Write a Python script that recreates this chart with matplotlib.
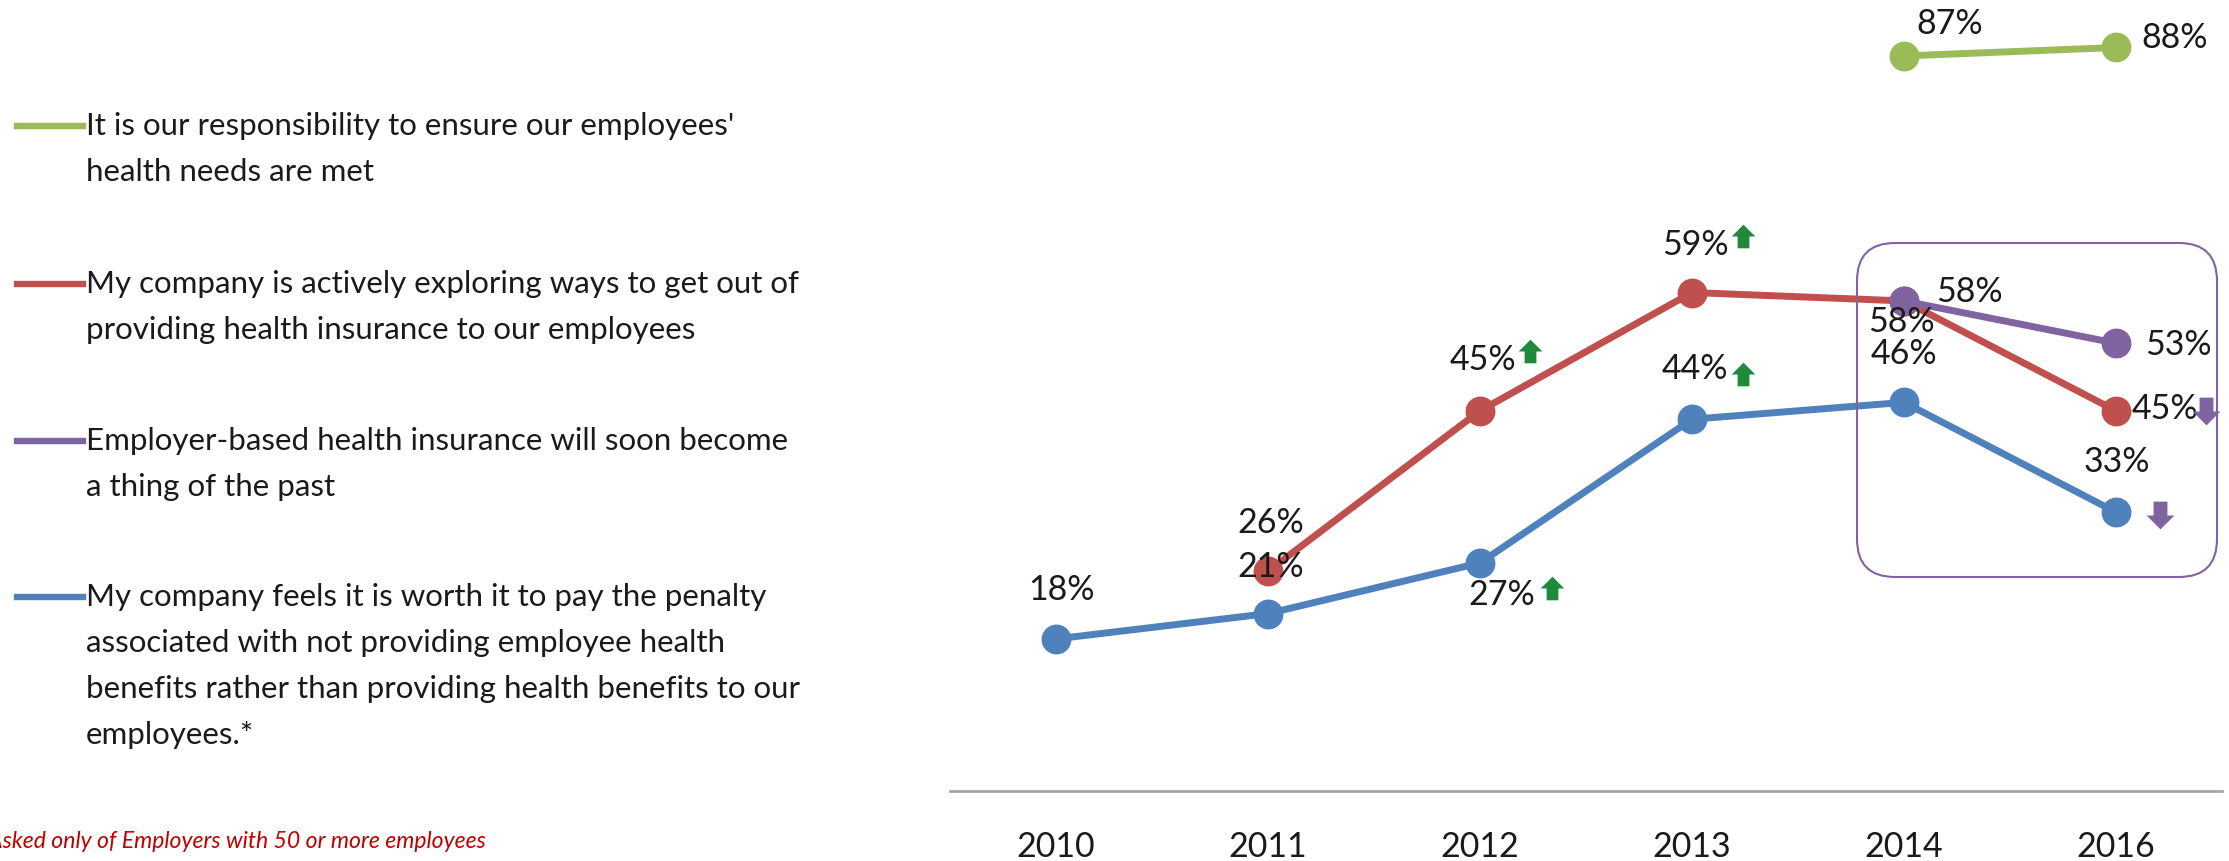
import numpy as np
import matplotlib
matplotlib.use("Agg")
import matplotlib.pyplot as plt
from matplotlib.path import Path
from matplotlib.patches import FancyBboxPatch
from matplotlib.transforms import offset_copy, IdentityTransform

# ---- data -------------------------------------------------------------
years = ["2010", "2011", "2012", "2013", "2014", "2016"]
responsibility = [np.nan, np.nan, np.nan, np.nan, 87, 88]
exploring = [np.nan, 26, 45, 59, 58, 45]
past = [np.nan, np.nan, np.nan, np.nan, 58, 53]
penalty = [18, 21, 27, 44, 46, 33]

legend_lines = [
    ["It is our responsibility to ensure our employees'",
     "health needs are met"],
    ["My company is actively exploring ways to get out of",
     "providing health insurance to our employees"],
    ["Employer-based health insurance will soon become",
     "a thing of the past"],
    ["My company feels it is worth it to pay the penalty",
     "associated with not providing employee health",
     "benefits rather than providing health benefits to our",
     "employees.*"],
]
footnote = "*Asked only of Employers with 50 or more employees"

# ---- style ------------------------------------------------------------
GREEN = "#9BBB59"
RED = "#C0504D"
PURPLE = "#8064A2"
BLUE = "#4F81BD"
ARROW_GREEN = "#1E8A3C"
TEXT = "#1a1a1a"
FONT = "Lato"

W, H = 2229, 861
fig = plt.figure(figsize=(W / 100, H / 100), dpi=100)
plt.rcParams["font.family"] = [FONT, "DejaVu Sans"]

ax_left, ax_right, ax_zero = 950, 2222, 791
ax = fig.add_axes([ax_left / W, (H - ax_zero) / H,
                   (ax_right - ax_left) / W, ax_zero / H])
ax.set_xlim(-0.5, 5.5)
ax.set_ylim(0, ax_zero / 8.449)
x = np.arange(len(years))

# label offsets (pixels) per point, None where no label
series = [
    (penalty, BLUE, [(5, 49), (3, 47), (22, -32), (3, 50), (0, 48), (1, 50)]),
    (exploring, RED, [None, (3, 48), (3, 51), (3, 48), (-3, -21), (49, 2)]),
    (past, PURPLE, [None, None, None, None, (65, 9), (62, -2)]),
    (responsibility, GREEN, [None, None, None, None, (46, 32), (59, 9)]),
]

for vals, col, offs in series:
    ax.plot(x, vals, color=col, lw=5, marker="o", ms=20.5,
            solid_capstyle="round", zorder=3)
    for i, (v, off) in enumerate(zip(vals, offs)):
        if off is None or np.isnan(v):
            continue
        ax.annotate(f"{v:.0f}%", (x[i], v), xytext=off,
                    textcoords="offset pixels", ha="center", va="center",
                    fontsize=24.5, color=TEXT, zorder=5)

# block arrows marking significant changes
up_verts = [(-0.5, 0.0), (0, 0.5), (0.5, 0.0), (0.25, 0.0),
            (0.25, -0.5), (-0.25, -0.5), (-0.25, 0.0), (-0.5, 0.0)]
up_arrow = Path(up_verts, closed=True)
down_arrow = Path([(vx, -vy) for vx, vy in up_verts], closed=True)

arrows = [
    (exploring, 2, (50, 60), up_arrow, ARROW_GREEN, 17),
    (exploring, 3, (51, 57), up_arrow, ARROW_GREEN, 17),
    (penalty, 3, (51, 45), up_arrow, ARROW_GREEN, 17),
    (penalty, 2, (72, -25), up_arrow, ARROW_GREEN, 17),
    (penalty, 5, (44, -3), down_arrow, PURPLE, 20),
    (exploring, 5, (90, 0), down_arrow, PURPLE, 20),
]
for vals, i, (dx, dy), mk, col, size in arrows:
    tr = offset_copy(ax.transData, fig=fig, x=dx, y=dy, units="dots")
    ax.plot([x[i]], [vals[i]], marker=mk, ms=size, color=col, ls="none",
            mew=0, transform=tr, zorder=6)

# axis styling
for side in ("left", "right", "top"):
    ax.spines[side].set_visible(False)
ax.spines["bottom"].set_color("#A6A6A6")
ax.spines["bottom"].set_linewidth(2)
ax.set_yticks([])
ax.set_xticks(x, years)
ax.tick_params(axis="x", length=0, pad=29, labelsize=24.5, labelcolor=TEXT)

# rounded highlight box around the latest years (pixel space)
bx0, bx1, by_top, by_bot = 1857, 2217, 243, 577
box = FancyBboxPatch((bx0, H - by_bot), bx1 - bx0, by_bot - by_top,
                     boxstyle="round,pad=0,rounding_size=38",
                     transform=IdentityTransform(), fill=False,
                     edgecolor=PURPLE, lw=1.5, zorder=2)
fig.patches.append(box)

# legend on the left
legend_colors = [GREEN, RED, PURPLE, BLUE]
legend_tops = [126, 284, 441, 597]
step = 46
for lines, col, y0 in zip(legend_lines, legend_colors, legend_tops):
    fig.add_artist(plt.Line2D([17 / W, 83 / W], [1 - y0 / H, 1 - y0 / H],
                              color=col, lw=4.6, transform=fig.transFigure))
    for k, line in enumerate(lines):
        fig.text(86 / W, 1 - (y0 + k * step) / H, line, ha="left",
                 va="center", fontsize=22.5, color=TEXT)

fig.text(486 / W, 1 - 842 / H, footnote, ha="right", va="center",
         fontsize=16.6, style="italic", color="#C00000")

fig.savefig("out.png", dpi=100)
